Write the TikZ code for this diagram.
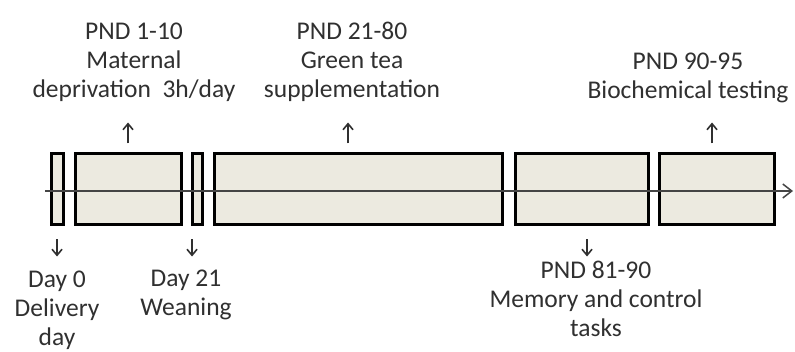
\documentclass[tikz,border=0pt]{standalone}
\usepackage{fontspec}
\setmainfont{Carlito}
\definecolor{boxFill}{RGB}{236,234,224}
\definecolor{txtGray}{RGB}{48,48,48}
\usetikzlibrary{arrows.meta,positioning}

\begin{document}
\begin{tikzpicture}[x=1pt,y=1pt,
    phase/.style={draw=black, line width=3pt, fill=boxFill, minimum height=71pt,
      inner sep=0pt, outer sep=0pt},
    lbl/.style={align=center, text=txtGray, inner sep=0pt, anchor=north,
      font=\fontsize{25.5}{29}\selectfont},
    tick/.style={-{Straight Barb[length=6pt,width=10pt]}, line width=1.6pt, draw=txtGray}]
    \fill[white] (0,0) rectangle (795,351);
    \useasboundingbox (0,0) rectangle (795,351);
    % Phases
    \node[phase, minimum width=12pt, anchor=west] (birth) at (51,162) {};
    \node[phase, minimum width=106pt, right=12pt of birth] (deprive) {};
    \node[phase, minimum width=10pt, right=11pt of deprive] (wean) {};
    \node[phase, minimum width=288pt, right=12pt of wean] (tea) {};
    \node[phase, minimum width=133pt, right=13pt of tea] (memory) {};
    \node[phase, minimum width=115pt, right=11pt of memory] (biochem) {};
    % Time line
    \coordinate (axisL) at (45,160);
    \coordinate (axisR) at (793,160);
    \draw[-{Straight Barb[length=9pt,width=14pt]}, line width=1.5pt, draw=txtGray!90] (axisL) -- (axisR);
    % Arrows up
    \coordinate (upDep) at ([yshift=31pt]deprive.north);
    \coordinate (upTea) at ([xshift=-10pt,yshift=31pt]tea.north);
    \coordinate (upBio) at ([xshift=-4.5pt,yshift=31pt]biochem.north);
    \draw[tick, shorten <=10pt] (deprive.north) -- (upDep);
    \draw[tick, shorten <=10pt] ([xshift=-10pt]tea.north) -- (upTea);
    \draw[tick, shorten <=10pt] ([xshift=-4.5pt]biochem.north) -- (upBio);
    % Arrows down
    \coordinate (dnBirth) at ([yshift=-32pt]birth.south);
    \coordinate (dnWean) at ([yshift=-32pt]wean.south west);
    \coordinate (dnMem) at ([xshift=5.5pt,yshift=-32pt]memory.south);
    \draw[tick, shorten <=15pt] (birth.south) -- (dnBirth);
    \draw[tick, shorten <=15pt] (wean.south west) -- (dnWean);
    \draw[tick, shorten <=15pt] ([xshift=5.5pt]memory.south) -- (dnMem);
    % Labels above
    \node[lbl] (lblDep) at (134,328) {PND 1-10\\Maternal\\deprivation~~3h/day};
    \node[lbl] (lblTea) at (352,329) {PND 21-80\\Green tea\\supplementation};
    \node[lbl] (lblBio) at (688,298) {PND 90-95\\Biochemical testing};
    % Labels below
    \node[lbl] (lblBirth) at (57,80) {Day 0\\Delivery\\day};
    \node[lbl] (lblWean) at (186,81) {Day 21\\Weaning};
    \node[lbl] (lblMem) at (596,90) {PND 81-90\\Memory and control\\tasks};
\end{tikzpicture}
\end{document}
